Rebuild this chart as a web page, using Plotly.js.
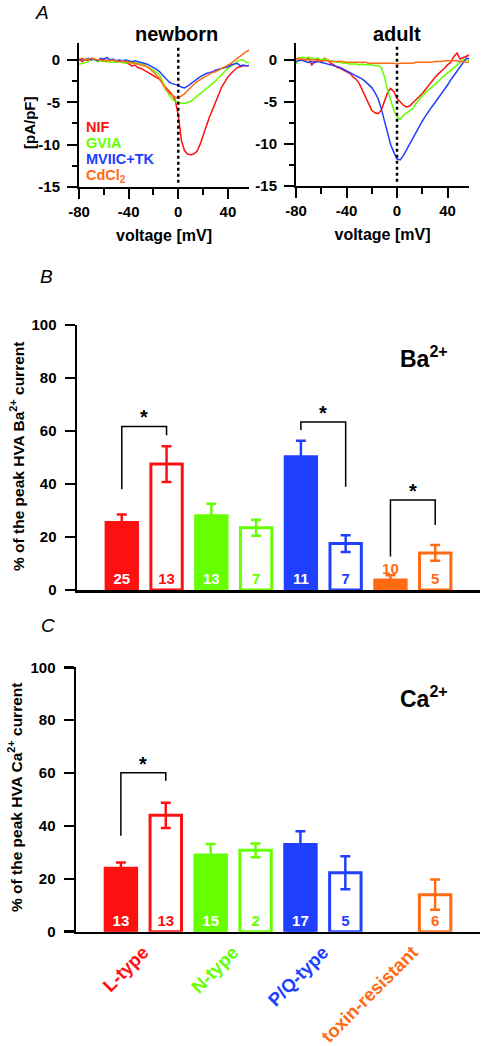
<!DOCTYPE html>
<html>
<head>
<meta charset="utf-8">
<script src="https://cdn.plot.ly/plotly-3.0.1.min.js"></script>
<style>html,body{margin:0;padding:0;background:#fff;}#chart{width:481px;height:1046px;}</style>
</head>
<body>
<div id="chart"></div>
<script>
// ---------- Panel A data: I-V curves (pA/pF) ----------
const voltage = [-80,-77.5,-75,-72.5,-70,-67.5,-65,-62.5,-60,-57.5,-55,-52.5,-50,-47.5,-45,-42.5,-40,-37.5,-35,-32.5,-30,-27.5,-25,-22.5,-20,-17.5,-15,-12.5,-10,-7.5,-5,-2.5,0,2.5,5,7.5,10,12.5,15,17.5,20,22.5,25,27.5,30,32.5,35,37.5,40,42.5,45,47.5,50,52.5,55,57.5];

const newbornNIF = [0.1,-0.2,0.1,-0.1,0.2,0.0,-0.1,0.1,0.0,-0.2,0.0,-0.1,-0.2,-0.1,-0.3,-0.2,-0.5,-0.7,-0.6,-0.9,-1.0,-1.2,-1.5,-1.6,-1.8,-2.0,-2.3,-2.8,-3.2,-3.7,-4.1,-4.7,-6.5,-9.5,-10.7,-11.1,-11.2,-11.1,-10.8,-10.0,-8.9,-7.8,-6.8,-5.9,-4.9,-4.1,-3.2,-2.6,-2.0,-1.6,-1.2,-0.9,-0.8,-0.7,-0.7,-0.6];
const newbornGVIA = [-0.5,-0.4,-0.3,-0.2,0.1,0.0,-0.2,-0.1,-0.2,-0.1,-0.3,-0.2,-0.3,-0.2,-0.3,-0.4,-0.3,-0.4,-0.3,-0.4,-0.5,-0.6,-0.8,-1.0,-1.2,-1.5,-1.8,-2.6,-3.4,-4.1,-4.6,-4.9,-5.0,-5.1,-5.1,-5.0,-4.9,-4.6,-4.3,-4.1,-3.8,-3.5,-3.2,-2.8,-2.5,-2.1,-1.7,-1.3,-1.0,-0.7,-0.4,-0.2,0.0,0.0,-0.3,-0.3];
const newbornMVIIC = [0.0,0.1,0.0,0.2,0.0,0.1,-0.1,0.2,0.1,0.3,0.0,0.1,-0.1,0.0,-0.1,0.0,-0.1,-0.2,-0.1,-0.2,-0.3,-0.4,-0.5,-0.7,-0.9,-1.1,-1.4,-1.8,-2.3,-2.6,-2.8,-2.9,-3.0,-3.2,-3.3,-3.1,-2.8,-2.5,-2.3,-2.0,-1.8,-1.6,-1.5,-1.4,-1.2,-1.1,-1.0,-0.9,-0.8,-0.6,-0.5,-0.4,-0.7,-0.6,-0.7,-0.7];
const newbornCdCl2 = [0.1,0.2,0.0,0.1,0.2,0.1,0.0,0.0,-0.1,0.0,-0.1,0.0,-0.1,-0.2,-0.1,-0.2,-0.3,-0.3,-0.4,-0.5,-0.6,-0.7,-0.8,-1.1,-1.4,-1.8,-2.2,-2.9,-3.5,-3.9,-4.2,-4.4,-4.5,-4.3,-4.0,-3.6,-3.2,-2.9,-2.6,-2.3,-2.1,-1.9,-1.7,-1.5,-1.4,-1.2,-1.0,-0.8,-0.6,-0.4,-0.1,0.2,0.5,0.8,1.0,1.2];

const adultNIF = [0.1,0.2,-0.1,0.0,0.2,-0.6,-0.2,0.1,-0.3,0.2,0.0,-0.4,-0.6,-0.9,-1.0,-1.2,-1.4,-1.6,-2.0,-2.3,-2.8,-3.6,-4.5,-5.2,-6.0,-6.3,-6.4,-6.0,-5.0,-3.9,-3.4,-3.8,-4.6,-5.0,-5.4,-5.6,-5.5,-5.1,-4.8,-4.4,-4.0,-3.5,-3.0,-2.5,-2.1,-1.7,-1.4,-1.0,-0.6,-0.3,0.4,0.8,0.1,0.3,0.5,0.6];
const adultGVIA = [-0.5,0.2,0.3,0.2,0.3,0.2,0.1,0.2,0.0,0.1,0.0,-0.1,-0.2,-0.3,-0.3,-0.4,-0.4,-0.5,-0.5,-0.5,-0.6,-0.5,-0.6,-0.6,-0.6,-0.7,-0.7,-0.9,-2.0,-3.6,-4.8,-6.0,-6.8,-7.1,-6.6,-6.3,-6.1,-5.8,-5.2,-4.7,-4.3,-3.9,-3.6,-3.2,-2.9,-2.6,-2.2,-1.9,-1.5,-1.2,-0.9,-0.6,-0.3,0.0,0.0,-0.2];
const adultMVIIC = [-0.2,-0.1,0.0,-0.2,-0.3,-0.2,-0.3,-0.2,-0.3,-0.4,-0.5,-0.6,-0.7,-0.8,-0.9,-1.1,-1.3,-1.5,-1.7,-1.9,-2.1,-2.3,-2.6,-2.9,-3.3,-3.9,-4.6,-5.8,-7.3,-8.9,-10.1,-11.0,-11.8,-11.9,-11.4,-10.7,-10.0,-9.3,-8.6,-8.0,-7.3,-6.7,-6.1,-5.6,-5.1,-4.6,-4.1,-3.5,-3.0,-2.4,-1.9,-1.4,-0.9,-0.3,0.2,0.1];
const adultCdCl2 = [0.1,0.1,0.1,0.0,0.0,0.0,0.0,-0.1,-0.1,-0.1,-0.1,-0.2,-0.2,-0.2,-0.2,-0.2,-0.3,-0.3,-0.3,-0.3,-0.3,-0.3,-0.3,-0.4,-0.4,-0.4,-0.4,-0.4,-0.4,-0.4,-0.4,-0.4,-0.5,-0.4,-0.4,-0.4,-0.4,-0.4,-0.3,-0.3,-0.3,-0.3,-0.3,-0.3,-0.2,-0.2,-0.2,-0.1,-0.1,-0.1,-0.1,-0.1,-0.2,-0.2,-0.3,-0.3];

const voltTickVals = [-80,-40,0,40];
const voltTickText = ['-80','-40','0','40'];
const currTickVals = [0,-5,-10,-15];
const currTickText = ['0','-5','-10','-15'];

// ---------- Panels B & C data ----------
const channelTypes = ['L-type','N-type','P/Q-type','toxin-resistant'];
const seriesColors = ['#ff1010','#66ff00','#2040ff','#ff6a13'];
const ivLegend = ['NIF','GVIA','MVIIC+TK','CdCl<sub>2</sub>'];

const baFilledMean = [25.5, 28.0, 50.3, 3.8];
const baFilledErr  = [3.0, 4.5, 6.0, 1.8];
const baFilledN    = ['25','13','11','10'];
const baOpenMean   = [47.5, 23.5, 17.5, 14.0];
const baOpenErr    = [6.7, 3.0, 3.2, 3.0];
const baOpenN      = ['13','7','7','5'];

const caFilledMean = [24.0, 29.0, 33.0, null];
const caFilledErr  = [2.2, 4.2, 5.0, null];
const caFilledN    = ['13','15','17',null];
const caOpenMean   = [44.0, 30.8, 22.3, 14.0];
const caOpenErr    = [4.8, 2.6, 6.2, 5.7];
const caOpenN      = ['13','2','5','6'];

const percentTicks = [0,20,40,60,80,100];

// significance brackets: [barA, barB, bracketTop, legEndA, legEndB]
const baSig = [[0,1,61.7,38.0,58.4],[4,5,63.4,60.4,39.0],[6,7,34.0,12.6,24.5]];
const caSig = [[0,1,60.1,36.3,57.1]];

// ---------- build ----------
const FONT = 'Liberation Sans, Arial, Helvetica, sans-serif';
const traces = [];
const ivNames = ['NIF','GVIA','MVIIC+TK','CdCl2'];
const nbSeries = [newbornNIF, newbornGVIA, newbornMVIIC, newbornCdCl2];
const adSeries = [adultNIF, adultGVIA, adultMVIIC, adultCdCl2];
nbSeries.forEach((s,i)=>traces.push({type:'scatter',mode:'lines',x:voltage,y:s,name:ivNames[i],xaxis:'x',yaxis:'y',line:{color:seriesColors[i],width:1.5},hoverinfo:'skip'}));
adSeries.forEach((s,i)=>traces.push({type:'scatter',mode:'lines',x:voltage,y:s,name:ivNames[i],xaxis:'x2',yaxis:'y2',line:{color:seriesColors[i],width:1.5},hoverinfo:'skip'}));

function barGroup(filledMean, filledErr, filledN, openMean, openErr, openN, xa, ya){
  channelTypes.forEach((c,i)=>{
    traces.push({
      type:'bar', x:[2*i, 2*i+1], y:[filledMean[i], openMean[i]],
      xaxis:xa, yaxis:ya, width:0.7, name:c,
      marker:{color:[seriesColors[i],'#ffffff'], line:{color:seriesColors[i], width:3}},
      error_y:{type:'data', array:[filledErr[i], openErr[i]], color:seriesColors[i], thickness:2.5, width:5},
      text:[filledN[i], openN[i]], textposition:'auto', insidetextanchor:'start', textangle:0,
      constraintext:'none', cliponaxis:false,
      insidetextfont:{family:FONT, size:15, weight:700, color:['#ffffff', seriesColors[i]]},
      outsidetextfont:{family:FONT, size:15, weight:700, color:seriesColors[i]},
      hoverinfo:'skip'
    });
  });
}
barGroup(baFilledMean, baFilledErr, baFilledN, baOpenMean, baOpenErr, baOpenN, 'x3','y3');
barGroup(caFilledMean, caFilledErr, caFilledN, caOpenMean, caOpenErr, caOpenN, 'x4','y4');

const shapes = [];
const annotations = [];
function sig(list, xr, yr){
  list.forEach(s=>{
    shapes.push({type:'path', xref:xr, yref:yr,
      path:`M ${s[0]},${s[3]} L ${s[0]},${s[2]} L ${s[1]},${s[2]} L ${s[1]},${s[4]}`,
      line:{color:'#000', width:1.5}});
    annotations.push({xref:xr, yref:yr, x:(s[0]+s[1])/2, y:s[2], text:'*', showarrow:false,
      yanchor:'bottom', yshift:-4, font:{family:FONT, size:20, weight:700, color:'#000'}});
  });
}
sig(baSig,'x3','y3');
sig(caSig,'x4','y4');

// dotted 0 mV lines
['x','x2'].forEach((xr,i)=>shapes.push({type:'line', xref:xr, yref:(i?'y2':'y')+' domain', x0:0, x1:0, y0:0.03, y1:0.98,
  line:{color:'#000', width:2.5, dash:'dot'}}));

const W = 481, H = 1046;
const px = v => v / W;
const py = v => 1 - v / H;

function txt(x, y, text, size, opts){
  return Object.assign({xref:'paper', yref:'paper', x:px(x), y:py(y), text:text, showarrow:false,
    xanchor:'center', yanchor:'middle', font:{family:FONT, size:size, weight:700, color:'#000'}}, opts||{});
}
const italic = {family:FONT, size:19, style:'italic', color:'#000'};
annotations.push(txt(42, 12, 'A', 19, {font:italic}));
annotations.push(txt(46, 276, 'B', 19, {font:italic}));
annotations.push(txt(48, 625, 'C', 19, {font:italic}));
annotations.push(txt(176, 34, 'newborn', 20));
annotations.push(txt(397, 34, 'adult', 20));
annotations.push(txt(30, 123, '[pA/pF]', 15, {textangle:-90}));
// legend labels of panel A
const legendY = [126.5, 143, 159.5, 175.5];
ivLegend.forEach((t,i)=>annotations.push(txt(84, legendY[i], t, 14.5,
  {xanchor:'left', font:{family:FONT, size:14.5, weight:700, color:seriesColors[i]}})));
annotations.push(txt(424, 357, 'Ba<sup>2+</sup>', 23));
annotations.push(txt(424, 697, 'Ca<sup>2+</sup>', 23));
annotations.push(txt(17, 457, '% of the peak HVA Ba<sup>2+</sup> current', 15.5, {textangle:-90}));
annotations.push(txt(15, 798, '% of the peak HVA Ca<sup>2+</sup> current', 15.5, {textangle:-90}));

const tickFont = {family:FONT, size:15, weight:700, color:'#000'};
const axA = {showline:true, linewidth:2, linecolor:'#000', ticks:'outside', ticklen:10, tickwidth:2, tickcolor:'#000',
  showgrid:false, zeroline:false, tickfont:tickFont, fixedrange:true};
const xA = Object.assign({}, axA, {range:[-80,57], tickmode:'array', tickvals:voltTickVals, ticktext:voltTickText,
  minor:{tickmode:'linear', tick0:-80, dtick:20, ticklen:6, tickwidth:2, ticks:'outside', tickcolor:'#000'},
  title:{text:'voltage [mV]', font:{family:FONT, size:16, weight:700, color:'#000'}, standoff:11}});
const yA = Object.assign({}, axA, {range:[-15,2], tickmode:'array', tickvals:currTickVals, ticktext:currTickText,
  minor:{tickmode:'linear', tick0:0, dtick:2.5, ticklen:5, tickwidth:2, ticks:'outside', tickcolor:'#000'}, ticklabelstandoff:4});

const yBar = {showline:true, linewidth:2.5, linecolor:'#000', ticks:'outside', ticklen:10, tickwidth:2.5, tickcolor:'#000',
  showgrid:false, zeroline:false, tickfont:tickFont, range:[0,100], tickmode:'array', tickvals:percentTicks,
  ticktext:percentTicks.map(String), ticklabelstandoff:5, fixedrange:true};
const xBar = {showline:true, linewidth:2.5, linecolor:'#000', ticks:'', showgrid:false, zeroline:false,
  range:[-1,8], fixedrange:true};

const layout = {
  width:W, height:H, margin:{l:0,r:0,t:0,b:0}, paper_bgcolor:'#fff', plot_bgcolor:'rgba(0,0,0,0)',
  showlegend:false, barmode:'overlay', font:{family:FONT, color:'#000'},
  xaxis: Object.assign({}, xA, {domain:[px(79), px(249)], anchor:'y'}),
  yaxis: Object.assign({}, yA, {domain:[py(187), py(43)], anchor:'x'}),
  xaxis2: Object.assign({}, xA, {domain:[px(296), px(469)], anchor:'y2'}),
  yaxis2: Object.assign({}, yA, {domain:[py(186), py(43)], anchor:'x2'}),
  xaxis3: Object.assign({}, xBar, {domain:[px(77), px(480)], anchor:'y3', showticklabels:false}),
  yaxis3: Object.assign({}, yBar, {domain:[py(590), py(325)], anchor:'x3'}),
  xaxis4: Object.assign({}, xBar, {domain:[px(76), px(480)], anchor:'y4', tickmode:'array',
    tickvals:[0.5,2.5,4.5,6.5],
    ticktext:channelTypes.map((c,i)=>`<span style="color:${seriesColors[i]}">${c}</span>`),
    tickangle:-45, tickfont:{family:FONT, size:18.5, weight:700}}),
  yaxis4: Object.assign({}, yBar, {domain:[py(931.7), py(667.3)], anchor:'x4'}),
  shapes:shapes, annotations:annotations
};

Plotly.newPlot('chart', traces, layout, {staticPlot:true, displayModeBar:false});
</script>
</body>
</html>
